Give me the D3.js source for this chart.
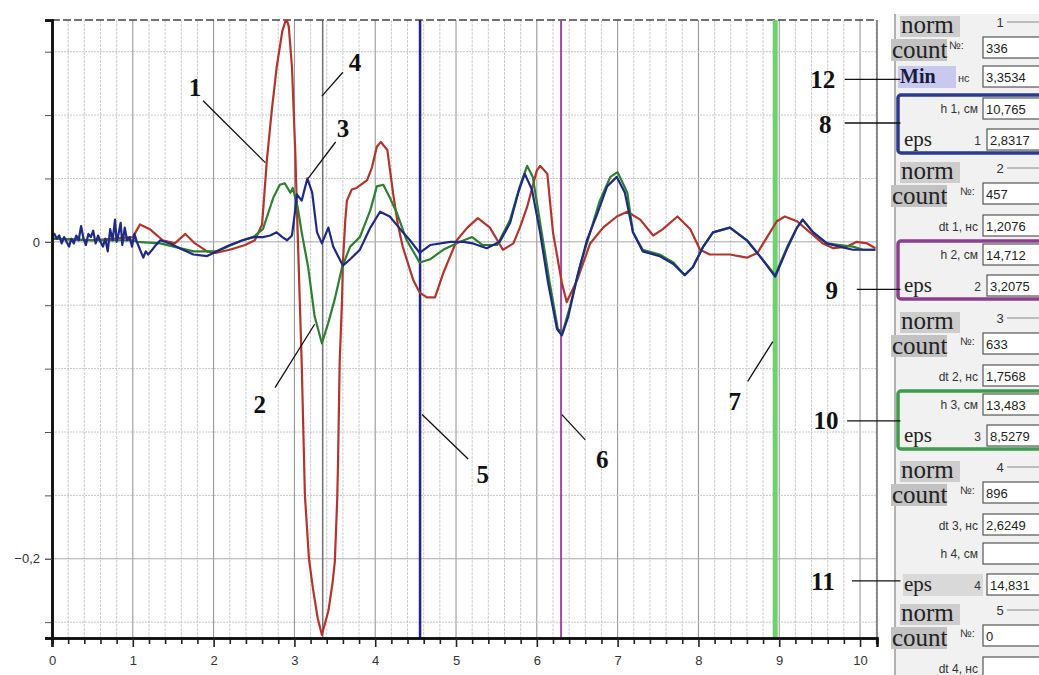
<!DOCTYPE html>
<html>
<head>
<meta charset="utf-8">
<title>signals</title>
<script src="https://d3js.org/d3.v7.min.js"></script>
<style>
  body { margin: 0; background: #fff; }
</style>
</head>
<body>
<div id="chart"></div>
<script>
// series values [t, amplitude]
var redSeries = [[0,0.002],[0.5,0.001],[1.0,0.003],[1.09,0.011],[1.21,0.008],[1.37,0.001],[1.52,-0.001],[1.65,0.005],
  [1.77,-0.001],[1.92,-0.006],[2.02,-0.007],[2.2,-0.005],[2.39,-0.002],[2.51,0.001],[2.6,0.011],[2.66,0.052],[2.72,0.083],
  [2.78,0.11],[2.85,0.133],[2.9,0.141],[2.93,0.136],[2.97,0.11],[3.01,0.058],[3.04,0.006],[3.09,-0.076],[3.13,-0.16],
  [3.18,-0.2],[3.23,-0.219],[3.29,-0.238],[3.34,-0.248],[3.42,-0.233],[3.47,-0.216],[3.5,-0.202],[3.53,-0.162],[3.54,-0.139],
  [3.56,-0.076],[3.59,-0.036],[3.6,-0.013],[3.63,0.014],[3.65,0.026],[3.71,0.033],[3.77,0.034],[3.9,0.039],[3.96,0.047],
  [4.02,0.06],[4.07,0.063],[4.15,0.058],[4.22,0.031],[4.28,0.011],[4.34,-0.003],[4.47,-0.024],[4.55,-0.032],[4.64,-0.035],
  [4.74,-0.035],[4.84,-0.02],[5.01,0.001],[5.14,0.009],[5.27,0.015],[5.42,0.009],[5.58,-0.005],[5.71,-0.001],[5.79,0.009],
  [5.88,0.022],[6.0,0.045],[6.04,0.048],[6.13,0.043],[6.2,0.006],[6.31,-0.026],[6.37,-0.038],[6.5,-0.024],[6.66,-0.001],
  [6.82,0.009],[6.99,0.016],[7.12,0.019],[7.28,0.014],[7.44,0.004],[7.56,0.008],[7.74,0.016],[7.9,0.008],[8.02,-0.005],
  [8.14,-0.008],[8.39,-0.008],[8.6,-0.01],[8.73,-0.007],[8.85,0.003],[8.97,0.013],[9.07,0.016],[9.22,0.013],[9.38,0.006],
  [9.54,-0.001],[9.67,-0.004],[9.84,-0.003],[9.96,0],[10.09,-0.001],[10.19,-0.004]];

var greenSeries = [[0,0.002],[0.5,0.001],[1.0,0.001],[1.05,0],[1.34,-0.001],[1.75,-0.006],[2.04,-0.006],[2.36,0.001],
  [2.49,0.003],[2.61,0.008],[2.74,0.028],[2.82,0.036],[2.88,0.037],[2.95,0.031],[2.98,0.034],[3.04,0.022],[3.09,0.006],
  [3.17,-0.016],[3.25,-0.047],[3.34,-0.064],[3.42,-0.051],[3.5,-0.036],[3.59,-0.016],[3.69,-0.003],[3.81,0.003],[3.94,0.02],
  [4.02,0.035],[4.1,0.036],[4.18,0.028],[4.27,0.018],[4.39,0.001],[4.55,-0.013],[4.68,-0.011],[4.84,-0.005],[5.05,0],
  [5.2,0.003],[5.33,-0.002],[5.51,-0.002],[5.67,0.014],[5.79,0.035],[5.88,0.048],[5.95,0.041],[6.06,0.006],[6.16,-0.026],
  [6.26,-0.055],[6.32,-0.057],[6.41,-0.041],[6.53,-0.016],[6.66,0.006],[6.78,0.026],[6.91,0.041],[7.0,0.044],[7.12,0.031],
  [7.19,0.006],[7.31,-0.005],[7.52,-0.008],[7.69,-0.013],[7.83,-0.021],[7.93,-0.016],[8.06,-0.003],[8.18,0.006],[8.39,0.009],
  [8.6,0.001],[8.76,-0.009],[8.95,-0.021],[9.1,-0.003],[9.22,0.009],[9.29,0.014],[9.42,0.006],[9.59,-0.001],[9.75,-0.002],
  [9.91,-0.003],[10.04,-0.005],[10.19,-0.005]];

var blueSeries = [[0,0.003],[0.03,0.005],[0.06,0.002],[0.09,0.004],[0.12,-0.001],[0.15,0.003],[0.18,0],[0.21,-0.003],
  [0.24,0.002],[0.27,-0.001],[0.3,0.004],[0.33,0.001],[0.36,0.01],[0.39,0.002],[0.42,-0.002],[0.45,0.005],[0.48,0.003],
  [0.51,0.007],[0.54,-0.001],[0.57,0.004],[0.6,0],[0.63,-0.003],[0.66,0.002],[0.69,-0.006],[0.72,0.008],[0.75,0.001],
  [0.78,0.014],[0.8,0],[0.82,0.004],[0.85,0.012],[0.87,-0.002],[0.9,0.009],[0.93,0.001],[0.96,0.003],[0.99,-0.003],
  [1.02,0.005],[1.05,0],[1.09,-0.005],[1.13,-0.01],[1.16,-0.006],[1.19,-0.008],[1.24,-0.005],[1.27,-0.003],[1.34,0.001],
  [1.46,-0.001],[1.58,-0.004],[1.75,-0.008],[1.92,-0.009],[2.04,-0.006],[2.2,-0.002],[2.36,0.001],[2.49,0.003],[2.61,0.003],
  [2.7,0.004],[2.78,0.006],[2.85,0.003],[2.91,0.001],[2.97,0.004],[3.01,0.02],[3.03,0.03],[3.09,0.026],[3.16,0.04],
  [3.22,0.031],[3.28,0.006],[3.34,-0.001],[3.42,0.009],[3.48,-0.003],[3.6,-0.015],[3.69,-0.011],[3.81,-0.005],[3.94,0.009],
  [4.06,0.019],[4.18,0.016],[4.31,0.008],[4.43,0.001],[4.55,-0.007],[4.68,-0.002],[4.93,0],[5.09,0],[5.21,-0.001],
  [5.38,-0.004],[5.54,0],[5.67,0.012],[5.77,0.031],[5.85,0.043],[5.94,0.033],[6.04,0.006],[6.14,-0.026],[6.25,-0.055],
  [6.31,-0.059],[6.39,-0.047],[6.5,-0.022],[6.62,0.001],[6.75,0.018],[6.87,0.035],[6.99,0.041],[7.09,0.031],[7.19,0.006],
  [7.31,-0.006],[7.52,-0.009],[7.69,-0.014],[7.83,-0.021],[7.93,-0.016],[8.06,-0.003],[8.18,0.006],[8.39,0.009],[8.6,0.001],
  [8.76,-0.009],[8.95,-0.022],[9.1,-0.004],[9.22,0.009],[9.29,0.014],[9.42,0.006],[9.59,-0.001],[9.75,-0.003],[9.91,-0.005],
  [10.19,-0.005]];

// cursor positions (time)
var cursorMin = 3.35;
var cursorTimes = [4.555, 6.30, 8.95];

// tick labels
var xTickValues = [0,1,2,3,4,5,6,7,8,9,10];
var yTickValues = [0, -0.2];

// side panel values
var groupNums = ["1","2","3","4","5"];
var countVals = ["336","457","633","896","0"];
var minVal = "3,3534";
var dtLabels = ["dt 1, нс","dt 2, нс","dt 3, нс","dt 4, нс"];
var dtVals = ["1,2076","1,7568","2,6249",""];
var hLabels = ["h 1, см","h 2, см","h 3, см","h 4, см"];
var hVals = ["10,765","14,712","13,483",""];
var epsVals = ["2,8317","3,2075","8,5279","14,831"];

// callouts [label, textT, textV, fromT, fromV, toT, toV]
var callouts = [
  ["1", 1.77, 0.092, 1.87, 0.089, 2.64, 0.050],
  ["4", 3.75, 0.108, 3.60, 0.107, 3.34, 0.092],
  ["3", 3.60, 0.066, 3.51, 0.063, 3.17, 0.040],
  ["2", 2.57, -0.108, 2.76, -0.092, 3.25, -0.052],
  ["5", 5.33, -0.152, 4.58, -0.109, 5.15, -0.137],
  ["6", 6.81, -0.143, 6.31, -0.109, 6.60, -0.125],
  ["7", 8.45, -0.106, 8.61, -0.088, 8.92, -0.063],
  ["12", 9.54, 0.097, 9.81, 0.1025, 10.50, 0.1025],
  ["8", 9.57, 0.069, 9.81, 0.075, 10.50, 0.075],
  ["9", 9.65, -0.036, 9.96, -0.030, 10.50, -0.030],
  ["10", 9.58, -0.118, 9.84, -0.113, 10.50, -0.113],
  ["11", 9.54, -0.220, 9.90, -0.214, 10.50, -0.214]
];

var W = 1039, H = 675;
var margin = {top: 20, left: 52, right: 162, bottom: 37};
var sans = "'Liberation Sans', Arial, sans-serif";
var serif = "'Liberation Serif', 'Times New Roman', serif";

var svg = d3.select("#chart").append("svg")
  .attr("width", W).attr("height", H)
  .style("font-family", sans);

var x = d3.scaleLinear().domain([0, 10.21]).range([margin.left, W - margin.right]);
var y = d3.scaleLinear().domain([-0.25, 0.14]).range([H - margin.bottom, margin.top]);

// grid
var grid = svg.append("g");
var minorX = d3.range(0, 10.21, 0.2).filter(function(d){ return Math.abs(d - Math.round(d)) > 0.01; });
grid.selectAll(".vminor").data(minorX).enter().append("line")
  .attr("x1", function(d){ return x(d); }).attr("x2", function(d){ return x(d); })
  .attr("y1", y(0.14)).attr("y2", y(-0.25))
  .attr("stroke", "#cfcfcf").attr("stroke-dasharray", "3,1");
grid.selectAll(".vmajor").data(d3.range(1, 11)).enter().append("line")
  .attr("x1", function(d){ return x(d); }).attr("x2", function(d){ return x(d); })
  .attr("y1", y(0.14)).attr("y2", y(-0.25))
  .attr("stroke", "#8f8f8f");
var hLines = d3.range(-6, 4).map(function(i){ return i * 0.04; });
function isMajorY(d) { return Math.abs(d) < 1e-6 || Math.abs(d + 0.2) < 1e-6; }
grid.selectAll(".hline").data(hLines).enter().append("line")
  .attr("x1", x(0)).attr("x2", x(10.21))
  .attr("y1", function(d){ return y(d); }).attr("y2", function(d){ return y(d); })
  .attr("stroke", function(d){ return isMajorY(d) ? "#a8a8a8" : "#c8c8c8"; })
  .attr("stroke-dasharray", function(d){ return isMajorY(d) ? null : "2,1"; });

// frame top / right
svg.append("line").attr("x1", x(0)).attr("x2", x(10.21)).attr("y1", y(0.14)).attr("y2", y(0.14))
  .attr("stroke", "#444").attr("stroke-width", 1.5).attr("stroke-dasharray", "8,3");
svg.append("line").attr("x1", x(10.21)).attr("x2", x(10.21)).attr("y1", y(0.14)).attr("y2", y(-0.25))
  .attr("stroke", "#666").attr("stroke-width", 1.5);

// cursors
svg.append("line").attr("x1", x(cursorMin)).attr("x2", x(cursorMin)).attr("y1", y(0.14)).attr("y2", y(-0.25))
  .attr("stroke", "#6f6f6f").attr("stroke-width", 1.5);
var cursorColors = ["#1c2290", "#a04aa8", "#6fd06f"];
var cursorWidths = [2.5, 2, 5];
svg.selectAll(".cursor").data(cursorTimes).enter().append("line")
  .attr("x1", function(d){ return x(d); }).attr("x2", function(d){ return x(d); })
  .attr("y1", y(0.14)).attr("y2", y(-0.25))
  .attr("stroke", function(d, i){ return cursorColors[i]; })
  .attr("stroke-width", function(d, i){ return cursorWidths[i]; });

// curves
svg.append("clipPath").attr("id", "plotclip").append("rect")
  .attr("x", x(0)).attr("y", y(0.14)).attr("width", x(10.21) - x(0)).attr("height", y(-0.25) - y(0.14));
var line = d3.line().x(function(d){ return x(d[0]); }).y(function(d){ return y(d[1]); });
var curves = svg.append("g").attr("clip-path", "url(#plotclip)");
[[redSeries, "#b3342c"], [greenSeries, "#2f7f32"], [blueSeries, "#1e2a86"]].forEach(function(s){
  curves.append("path").datum(s[0]).attr("d", line)
    .attr("fill", "none").attr("stroke", s[1]).attr("stroke-width", 2.2).attr("stroke-linejoin", "round");
});

// axes
var xAxisMinor = svg.append("g").attr("transform", "translate(0," + y(-0.25) + ")")
  .call(d3.axisBottom(x).tickValues(minorX).tickSize(6).tickFormat(""));
var xAxis = svg.append("g").attr("transform", "translate(0," + y(-0.25) + ")")
  .call(d3.axisBottom(x).tickValues(xTickValues).tickSize(9).tickPadding(9).tickFormat(d3.format("d")));
[xAxisMinor, xAxis].forEach(function(a){
  a.select(".domain").attr("stroke", "#111").attr("stroke-width", 2.5);
  a.selectAll(".tick line").attr("stroke", "#222").attr("stroke-width", 1.6);
});
xAxis.selectAll("text").style("font-family", sans).style("font-size", "13px").attr("fill", "#333");

var yAxisMinor = svg.append("g").attr("transform", "translate(" + x(0) + ",0)")
  .call(d3.axisLeft(y).tickValues(hLines).tickSize(7).tickFormat(""));
var yAxis = svg.append("g").attr("transform", "translate(" + x(0) + ",0)")
  .call(d3.axisLeft(y).tickValues(yTickValues).tickSize(7).tickPadding(5)
    .tickFormat(function(d){ return d === 0 ? "0" : d3.format(".1f")(d).replace(".", ","); }));
[yAxisMinor, yAxis].forEach(function(a){
  a.select(".domain").attr("stroke", "#111").attr("stroke-width", 2.5);
  a.selectAll(".tick line").attr("stroke", "#555");
});
yAxis.selectAll("text").style("font-family", sans).style("font-size", "13px").attr("fill", "#333");

// side panel
var panel = svg.append("g");
panel.append("rect").attr("x", 895).attr("y", 14).attr("width", W - 895).attr("height", H - 14).attr("fill", "#f1f1f1");
panel.append("line").attr("x1", 895).attr("x2", 895).attr("y1", 14).attr("y2", H).attr("stroke", "#9a9a9a").attr("stroke-width", 1.5);

var groupTops = [14, 160, 310, 459, 602];
var boxColors = ["#2b3a8e", "#8d3f8f", "#3d9b4b"];

function inputBox(px, py, txt) {
  panel.append("rect").attr("x", px).attr("y", py).attr("width", W - px + 5).attr("height", 21)
    .attr("fill", "#fff").attr("stroke", "#555").attr("stroke-width", 1.2);
  panel.append("text").attr("x", px + 3).attr("y", py + 16).style("font-size", "13px").attr("fill", "#222").text(txt);
}
function smallLabel(px, py, txt) {
  panel.append("text").attr("x", px).attr("y", py).attr("text-anchor", "end")
    .style("font-size", "12px").attr("fill", "#333").text(txt);
}
function serifText(px, py, size, txt, bold) {
  return panel.append("text").attr("x", px).attr("y", py)
    .style("font-family", serif).style("font-size", size + "px")
    .style("font-weight", bold ? "bold" : "normal").attr("fill", "#222").text(txt);
}

groupNums.forEach(function(g, i){
  var t = groupTops[i];
  // group header
  panel.append("rect").attr("x", 900).attr("y", t + 2).attr("width", 60).attr("height", 21).attr("fill", "#cdcdcd");
  serifText(901, t + 19, 25, "norm");
  panel.append("text").attr("x", 1000).attr("y", t + 13).style("font-size", "13px").attr("fill", "#333")
    .attr("text-anchor", "middle").text(g);
  panel.append("line").attr("x1", 1007).attr("x2", W).attr("y1", t + 8).attr("y2", t + 8).attr("stroke", "#888");
  // count row
  panel.append("rect").attr("x", 891).attr("y", t + 25).attr("width", 56).attr("height", 22).attr("fill", "#c2c2c2");
  serifText(892, t + 44, 25, "count");
  panel.append("text").attr("x", i === 0 ? 949 : 960).attr("y", t + 35).style("font-size", "11px").attr("fill", "#333").text("№:");
  inputBox(983, t + 23, countVals[i]);
  if (i === 4) {
    smallLabel(978, t + 71, dtLabels[3]);
    inputBox(983, t + 55, dtVals[3]);
    return;
  }
  // third row
  if (i === 0) {
    panel.append("rect").attr("x", 898).attr("y", t + 52).attr("width", 58).attr("height", 22).attr("fill", "#c9c9ef");
    serifText(900, t + 69, 20, "Min", true).attr("fill", "#1a1a3a");
    panel.append("text").attr("x", 958).attr("y", t + 68).style("font-size", "11px").attr("fill", "#333").text("нс");
    inputBox(983, t + 52, minVal);
  } else {
    smallLabel(978, t + 71, dtLabels[i - 1]);
    inputBox(983, t + 55, dtVals[i - 1]);
  }
  // h row + eps row
  var hy = t + 84, ey = t + 115;
  if (i < 3) {
    panel.append("rect").attr("x", 898).attr("y", hy - 3).attr("width", W - 898 + 10).attr("height", 58)
      .attr("rx", 3).attr("fill", "none").attr("stroke", boxColors[i]).attr("stroke-width", 3.5);
  } else {
    panel.append("rect").attr("x", 903).attr("y", ey).attr("width", 80).attr("height", 22).attr("fill", "#d9d9d9");
  }
  smallLabel(978, hy + 15, hLabels[i]);
  inputBox(983, hy, hVals[i]);
  serifText(904, ey + 17, 21, "eps");
  smallLabel(981, ey + 16, String(i + 1));
  inputBox(987, ey, epsVals[i]);
});

// callouts
var notes = svg.append("g");
notes.selectAll("line").data(callouts).enter().append("line")
  .attr("x1", function(d){ return x(d[3]); }).attr("y1", function(d){ return y(d[4]); })
  .attr("x2", function(d){ return x(d[5]); }).attr("y2", function(d){ return y(d[6]); })
  .attr("stroke", "#111").attr("stroke-width", 1.3);
notes.selectAll("text").data(callouts).enter().append("text")
  .attr("x", function(d){ return x(d[1]); }).attr("y", function(d){ return y(d[2]); })
  .attr("text-anchor", "middle").style("font-family", serif).style("font-weight", "bold")
  .style("font-size", "25px").attr("fill", "#111").text(function(d){ return d[0]; });
</script>
</body>
</html>
